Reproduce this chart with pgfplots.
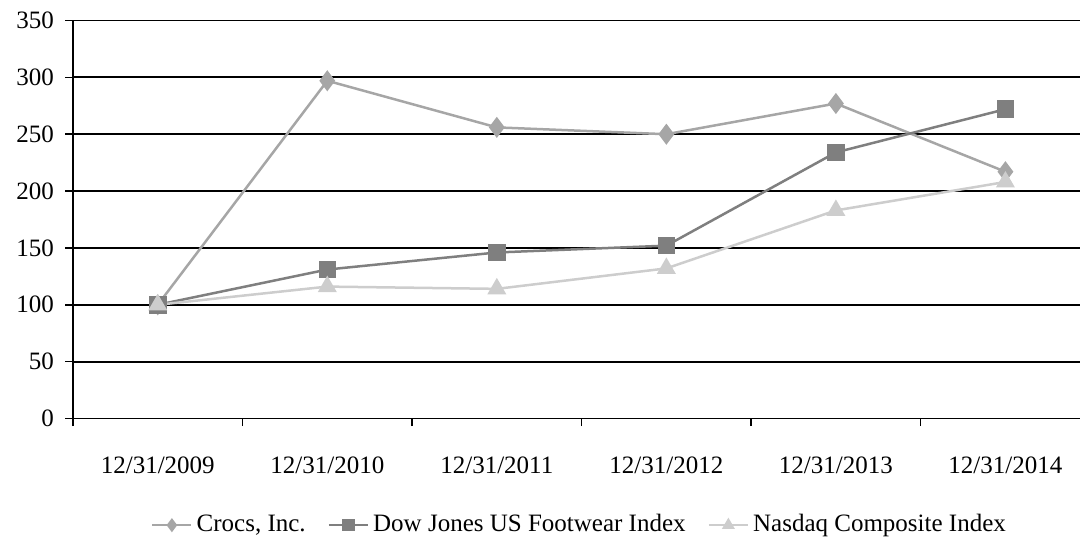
\documentclass[border=0pt]{standalone}
\usepackage{pgfplots}
\pgfplotsset{compat=1.18}
\usepackage{fontspec}
\setmainfont{Liberation Serif}
\definecolor{crocs}{HTML}{A6A6A6}
\definecolor{dow}{HTML}{7F7F7F}
\definecolor{nasdaq}{HTML}{CDCDCD}
\begin{document}
\fontsize{25bp}{30bp}\selectfont
\begin{tikzpicture}
\path[use as bounding box] (0,0) rectangle (1080bp,543bp);
\begin{axis}[
  at={(73bp,124.5bp)}, anchor=south west,
  scale only axis, width=1007bp, height=398bp,
  xmin=-0.5, xmax=5.44, ymin=0, ymax=350,
  axis x line=bottom, axis y line=left,
  axis line style={-, black, line width=1.8bp},
  xtick={-0.5,0.5,1.5,2.5,3.5,4.5},
  xticklabels={},
  extra x ticks={0,1,2,3,4,5},
  extra x tick labels={12/31/2009,12/31/2010,12/31/2011,12/31/2012,12/31/2013,12/31/2014},
  extra x tick style={major tick length=0pt, xticklabel style={yshift=-30bp}},
  ytick={0,50,...,350},
  tick align=outside,
  major tick length=7.5bp,
  tick style={black, line width=1.5bp},
  ymajorgrids,
  major grid style={black, line width=1.8bp},
  /pgf/number format/assume math mode=true,
  ticklabel style={font=\fontsize{25bp}{30bp}\selectfont},
  yticklabel style={xshift=-3bp},
  legend style={at={(axis description cs:0.504,-0.268)}, anchor=center, draw=none,
    font=\fontsize{25bp}{30bp}\selectfont,
    nodes={inner sep=4bp},
    /tikz/every even column/.append style={column sep=18bp}},
  legend columns=3,
  legend image post style={mark size=5bp},
  legend image code/.code={\draw[mark repeat=2,mark phase=2] plot coordinates {(0bp,0bp)(19.5bp,0bp)(39bp,0bp)};},
]
\addplot[crocs, line width=2.5bp, mark=diamond*, mark size=8.5bp, mark options={solid, fill=crocs, draw=crocs}]
  coordinates {(0,100)(1,297)(2,256)(3,250)(4,277)(5,217)};
\addlegendentry{Crocs, Inc.}
\addplot[dow, line width=2.5bp, mark=square*, mark size=7.5bp, mark options={solid, fill=dow, draw=dow}]
  coordinates {(0,100)(1,131)(2,146)(3,152)(4,234)(5,272)};
\addlegendentry{Dow Jones US Footwear Index}
\addplot[nasdaq, line width=2.5bp, mark=triangle*, mark size=8.5bp, mark options={solid, fill=nasdaq, draw=nasdaq}]
  coordinates {(0,100)(1,116)(2,114)(3,132)(4,183)(5,208)};
\addlegendentry{Nasdaq Composite Index}
\end{axis}
\end{tikzpicture}
\end{document}
